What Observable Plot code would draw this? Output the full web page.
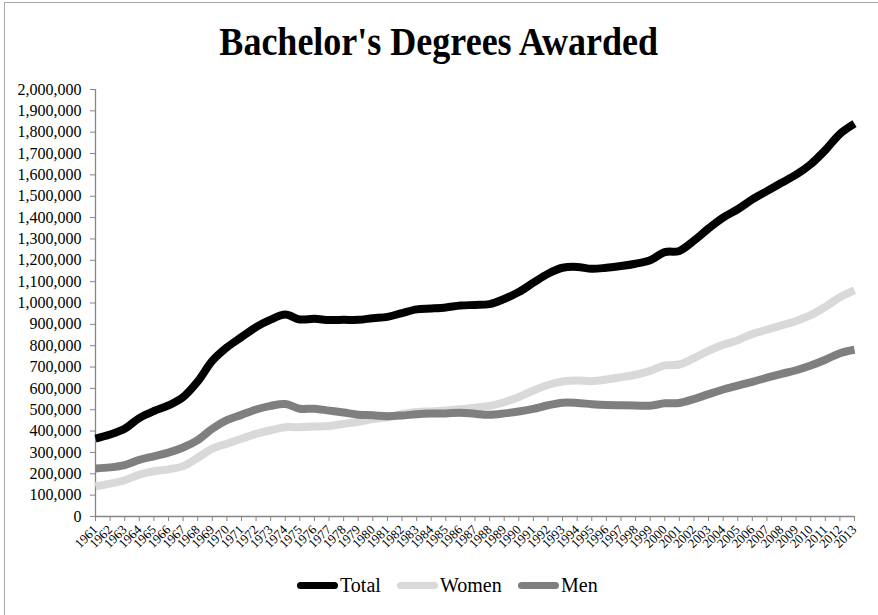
<!DOCTYPE html>
<html>
<head>
<meta charset="utf-8">
<script src="https://cdn.jsdelivr.net/npm/d3@7"></script>
<script src="https://cdn.jsdelivr.net/npm/@observablehq/plot@0.6"></script>
<style>
  html, body { margin: 0; padding: 0; background: #fff; }
  #wrap { position: relative; width: 878px; height: 615px; overflow: hidden; background: #fff; font-family: "Liberation Serif", "DejaVu Serif", serif; }
  #frame { position: absolute; left: 4px; top: 2px; width: 1000px; height: 1000px; border: 1.5px solid #a9a9a9; box-sizing: border-box; }
  #title { position: absolute; left: 0; width: 878px; top: 18px; text-align: center; font-size: 40px; font-weight: bold; color: #000; line-height: 48px; }
  #title span { display: inline-block; transform: scaleX(0.9); white-space: nowrap; }
  #chart { position: absolute; left: 0; top: 80px; }
  #legend { position: absolute; top: 571px; left: 0; width: 878px; height: 28px; }
  .item { position: absolute; top: 0; height: 28px; display: flex; align-items: center; font-size: 20px; color: #000; }
  .sw { width: 41px; height: 7px; border-radius: 4px; margin-right: 2px; }
</style>
</head>
<body>
<div id="wrap">
  <div id="frame"></div>
  <div id="title"><span>Bachelor's Degrees Awarded</span></div>
  <div id="chart"></div>
  <div id="legend"></div>
</div>
<script>
const years = [1961,1962,1963,1964,1965,1966,1967,1968,1969,1970,1971,1972,1973,1974,1975,1976,1977,1978,1979,1980,1981,1982,1983,1984,1985,1986,1987,1988,1989,1990,1991,1992,1993,1994,1995,1996,1997,1998,1999,2000,2001,2002,2003,2004,2005,2006,2007,2008,2009,2010,2011,2012,2013];
const total = [365000,384000,411000,461000,494000,520000,559000,632000,729000,792000,840000,887000,922000,946000,923000,926000,920000,921000,921000,929000,935000,953000,970000,974000,979000,988000,991000,995000,1019000,1051000,1095000,1137000,1165000,1169000,1160000,1165000,1173000,1184000,1200000,1238000,1244000,1292000,1349000,1400000,1439000,1485000,1524000,1563000,1601000,1650000,1716000,1792000,1840000];
const women = [141000,154000,170000,196000,212000,221000,236000,275000,318000,341000,364000,387000,404000,418000,418000,421000,424000,434000,444000,456000,465000,480000,490000,492000,497000,502000,510000,518000,535000,560000,590000,616000,632000,637000,634000,642000,652000,664000,682000,708000,712000,742000,776000,804000,826000,855000,875000,895000,916000,943000,982000,1027000,1059000];
const men = [225000,230000,241000,265000,282000,299000,323000,358000,411000,451000,476000,501000,518000,527000,505000,505000,496000,487000,477000,474000,470000,473000,479000,482000,483000,486000,481000,477000,483000,492000,504000,521000,533000,532000,526000,522000,521000,520000,519000,530000,532000,550000,573000,595000,613000,631000,650000,668000,685000,707000,734000,765000,781000];
const seriesNames = ["Total", "Women", "Men"];
const seriesColors = ["#000000", "#d9d9d9", "#7f7f7f"];
const yTicks = d3.range(0, 2000001, 100000);

const rows = (vals) => years.map((y, i) => ({year: y, value: vals[i]}));
const lineOpts = (c) => ({x: "year", y: "value", stroke: c, strokeWidth: 8, curve: "catmull-rom", strokeLinejoin: "round", strokeLinecap: "butt"});

const chart = Plot.plot({
  width: 878,
  height: 470,
  marginLeft: 95,
  marginRight: 24,
  marginTop: 9,
  marginBottom: 34,
  style: {fontFamily: "'Liberation Serif', serif", background: "transparent", color: "#000"},
  x: {domain: [years[0], years[years.length - 1]], axis: null},
  y: {domain: [0, 2000000], axis: null},
  marks: [
    Plot.axisY({ticks: yTicks, tickSize: 5, tickPadding: 9, tickFormat: d3.format(","), stroke: "#868686", fontSize: 16, fill: "#000", label: null}),
    Plot.axisX({ticks: years, tickSize: 5, tickPadding: 6, tickRotate: -45, tickFormat: d => String(d), stroke: "#868686", fontSize: 13, fill: "#000", label: null}),
    Plot.ruleX([years[0]], {stroke: "#868686", strokeWidth: 1.3}),
    Plot.ruleY([0], {stroke: "#868686", strokeWidth: 1.3}),
    Plot.line(rows(total), lineOpts(seriesColors[0])),
    Plot.line(rows(women), lineOpts(seriesColors[1])),
    Plot.line(rows(men), lineOpts(seriesColors[2]))
  ]
});
document.getElementById("chart").appendChild(chart);

const legend = document.getElementById("legend");
const lefts = [297, 397, 518];
seriesNames.forEach((name, i) => {
  const item = document.createElement("div");
  item.className = "item";
  item.style.left = lefts[i] + "px";
  const sw = document.createElement("div");
  sw.className = "sw";
  sw.style.background = seriesColors[i];
  item.appendChild(sw);
  const t = document.createElement("span");
  t.textContent = name;
  item.appendChild(t);
  legend.appendChild(item);
});
</script>
</body>
</html>
